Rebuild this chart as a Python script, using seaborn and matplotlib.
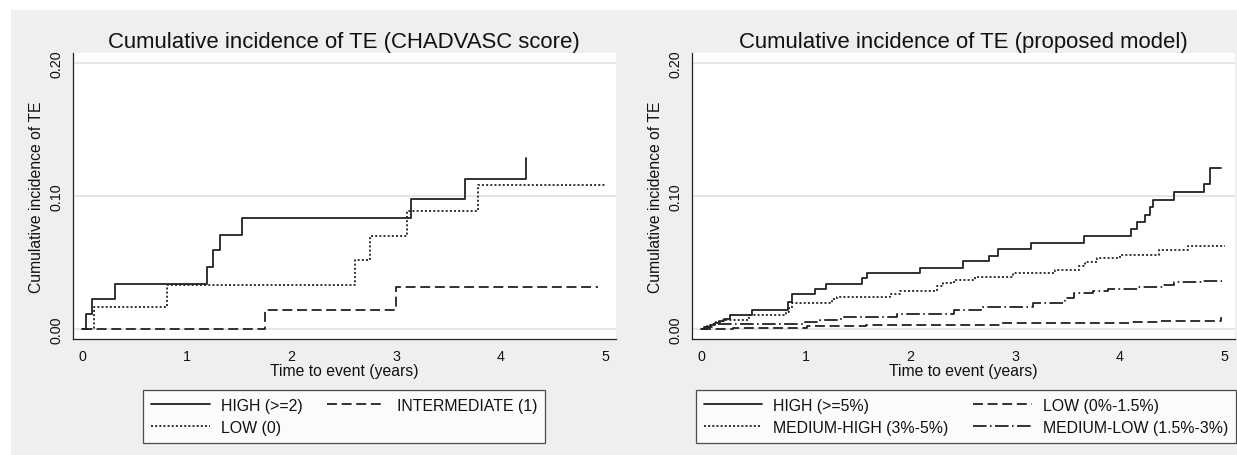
import numpy as np
import pandas as pd
import matplotlib
matplotlib.use("Agg")
import matplotlib.pyplot as plt
from matplotlib.patches import Rectangle
from matplotlib.lines import Line2D
import seaborn as sns

# ---- CHA2DS2-VASc groups (years, cumulative incidence) ----
chad_high_t = [0, 0.035, 0.093, 0.315, 1.194, 1.251, 1.312, 1.522, 3.139, 3.655, 4.237]
chad_high_v = [0, 0.011, 0.0226, 0.0338, 0.0464, 0.0592, 0.0709, 0.0835, 0.0975, 0.1125, 0.1286]
chad_low_t = [0, 0.112, 0.806, 2.605, 2.748, 3.104, 3.779, 4.99]
chad_low_v = [0, 0.0168, 0.0331, 0.0521, 0.0699, 0.0890, 0.1085, 0.1085]
chad_mid_t = [0, 1.748, 2.993, 4.93]
chad_mid_v = [0, 0.0145, 0.0313, 0.0313]

# ---- proposed model groups ----
mod_high_t = [0, 0.03, 0.08, 0.13, 0.17, 0.22, 0.28, 0.486, 0.83, 0.867, 1.083, 1.195,
              1.534, 1.582, 2.091, 2.498, 2.752, 2.838, 3.146, 3.658, 4.103, 4.164,
              4.237, 4.288, 4.316, 4.513, 4.8, 4.863, 4.962]
mod_high_v = [0, 0.0015, 0.003, 0.0045, 0.006, 0.0075, 0.0105, 0.0145, 0.020, 0.0263,
              0.030, 0.0338, 0.038, 0.0421, 0.0459, 0.0511, 0.0551, 0.0602, 0.0650,
              0.0699, 0.0752, 0.0802, 0.0857, 0.0915, 0.097, 0.1032, 0.1088, 0.1208, 0.1208]
mod_mhigh_t = [0, 0.04, 0.09, 0.14, 0.21, 0.453, 0.81, 0.84, 0.87, 1.248, 1.30, 1.805,
               1.90, 2.25, 2.31, 2.41, 2.616, 2.98, 3.378, 3.61, 3.665, 3.776, 4.0,
               4.37, 4.65, 5.0]
mod_mhigh_v = [0, 0.002, 0.004, 0.0055, 0.0068, 0.0105, 0.013, 0.016, 0.0193, 0.0226,
               0.0240, 0.0265, 0.0288, 0.0321, 0.0346, 0.0371, 0.039, 0.0419, 0.0444,
               0.0476, 0.0504, 0.0534, 0.0559, 0.0594, 0.0624, 0.0624]
mod_mlow_t = [0, 0.06, 0.12, 0.994, 1.137, 1.31, 1.36, 1.868, 2.41, 2.695, 3.17, 3.474,
              3.56, 3.744, 3.887, 4.173, 4.41, 4.52, 4.79, 4.97]
mod_mlow_v = [0, 0.0015, 0.0035, 0.0055, 0.0065, 0.0075, 0.0088, 0.0113, 0.0143, 0.0168,
              0.0193, 0.023, 0.0268, 0.0288, 0.030, 0.0313, 0.0333, 0.0351, 0.0363, 0.0363]
mod_low_t = [0, 0.3, 1.01, 1.57, 2.855, 4.11, 4.36, 4.96, 4.97]
mod_low_v = [0, 0.001, 0.0025, 0.0032, 0.0043, 0.0055, 0.0063, 0.008, 0.008]

titles = ["Cumulative incidence of TE (CHADVASC score)",
          "Cumulative incidence of TE (proposed model)"]
xlabel = "Time to event (years)"
ylabel = "Cumulative incidence of TE"
xticks = [0, 1, 2, 3, 4, 5]
yticks = [0.0, 0.1, 0.2]
ytick_labels = ["0.00", "0.10", "0.20"]

INK = "#222222"
BG = "#efefef"
LW = 1.3
STYLES = {
    "solid": "-",
    "dash": (0, (5.5, 2.6)),
    "dot": (0, (1.1, 1.2)),
    "dashdot": (0, (7.5, 1.9, 0.9, 1.9)),
}

sns.set_theme(style="white")
plt.rcParams["font.family"] = ["Liberation Sans", "DejaVu Sans"]

W, H = 1237, 456
fig = plt.figure(figsize=(W / 100, H / 100), dpi=100, facecolor=BG)

# white margin at the top and the left
fig.add_artist(Rectangle((0, 1 - 11 / H), 1, 11 / H, transform=fig.transFigure,
                         facecolor="white", edgecolor="none", zorder=-5))
fig.add_artist(Rectangle((0, 0), 11 / W, 1, transform=fig.transFigure,
                         facecolor="white", edgecolor="none", zorder=-5))

ax_bottom = 1 - 340 / H
ax_height = (340 - 54.3) / H
ax_width = 543 / W
axes = [fig.add_axes([72.7 / W, ax_bottom, ax_width, ax_height]),
        fig.add_axes([691.7 / W, ax_bottom, ax_width, ax_height])]

panels = [
    [("HIGH (>=2)", chad_high_t, chad_high_v, "solid"),
     ("LOW (0)", chad_low_t, chad_low_v, "dot"),
     ("INTERMEDIATE (1)", chad_mid_t, chad_mid_v, "dash")],
    [("HIGH (>=5%)", mod_high_t, mod_high_v, "solid"),
     ("MEDIUM-HIGH (3%-5%)", mod_mhigh_t, mod_mhigh_v, "dot"),
     ("LOW (0%-1.5%)", mod_low_t, mod_low_v, "dash"),
     ("MEDIUM-LOW (1.5%-3%)", mod_mlow_t, mod_mlow_v, "dashdot")],
]
legend_centers = [344, 966]

for ax, title, series, lc in zip(axes, titles, panels, legend_centers):
    ax.set_facecolor("white")
    for yv in yticks:
        ax.axhline(yv, color="#e2e2e2", lw=1.2, zorder=0)
    handles = []
    for name, t, v, sty in series:
        df = pd.DataFrame({"t": t, "v": v})
        sns.lineplot(data=df, x="t", y="v", ax=ax, drawstyle="steps-post",
                     estimator=None, sort=False, color=INK, linewidth=LW,
                     linestyle=STYLES[sty], legend=False)
        handles.append(Line2D([], [], color=INK, lw=LW, linestyle=STYLES[sty], label=name))
    ax.set_xlim(-0.09, 5.095)
    ax.set_ylim(-0.0075, 0.2073)
    ax.set_xticks(xticks)
    ax.set_yticks(yticks)
    ax.set_yticklabels(ytick_labels)
    for lab in ax.get_yticklabels():
        lab.set_rotation(90)
        lab.set_va("center")
    ax.tick_params(axis="both", direction="out", length=4.3, width=0.9, color=INK,
                   labelsize=10.3, labelcolor="#111111", pad=3)
    ax.tick_params(axis="y", pad=2.5)
    ax.set_xlabel(xlabel, fontsize=11.3, color="#111111", labelpad=0)
    ax.set_ylabel(ylabel, fontsize=11.3, color="#111111", labelpad=4)
    ax.set_title(title, fontsize=15.9, color="#111111", pad=4.8)
    for side in ["top", "right"]:
        ax.spines[side].set_visible(False)
    for side in ["left", "bottom"]:
        ax.spines[side].set_color(INK)
        ax.spines[side].set_linewidth(0.9)
    leg = fig.legend(handles=handles, loc="upper center",
                     bbox_to_anchor=(lc / W, 1 - 391 / H), ncol=2, fontsize=11.4,
                     frameon=True, fancybox=False, borderaxespad=0, borderpad=0.5,
                     handlelength=3.7, handletextpad=0.7, columnspacing=1.55,
                     labelspacing=0.43)
    leg.get_frame().set_edgecolor(INK)
    leg.get_frame().set_linewidth(0.9)
    leg.get_frame().set_facecolor("white")
    for txt in leg.get_texts():
        txt.set_color("#111111")

fig.savefig("out.png", dpi=100, facecolor=BG)
